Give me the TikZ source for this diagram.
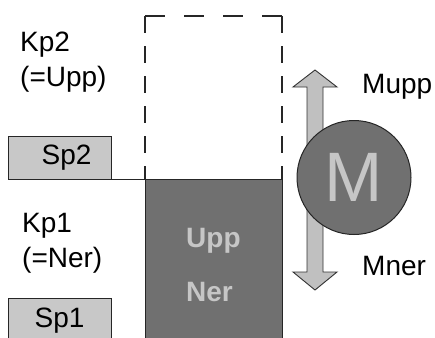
\documentclass[tikz,border=0pt]{standalone}
\usepackage{fontspec}
\setmainfont{Liberation Sans}
\usepackage{tikz}
\usetikzlibrary{positioning}
\definecolor{korgfill}{RGB}{112,112,112}
\definecolor{spfill}{RGB}{200,200,200}
\definecolor{pilfill}{RGB}{192,192,192}
\definecolor{ljustext}{RGB}{198,198,198}

\begin{document}
\begin{tikzpicture}[x=1pt, y=-1pt,
  spbox/.style={rectangle, draw=black!85, fill=spfill, line width=1pt,
             minimum width=103pt, inner sep=0pt, outer sep=0pt,
             font=\fontsize{28}{34}\selectfont},
  kplbl/.style={align=left, anchor=north west, inner sep=0pt,
             font=\fontsize{28}{35}\selectfont},
  korgbox/.style={rectangle, draw=black!85, fill=korgfill, line width=1pt,
             minimum width=137pt, minimum height=161pt, inner sep=0pt, outer sep=0pt},
  dashbox/.style={draw=black!85, line width=1.3pt},
  pil/.style={draw=black!80, fill=pilfill, line width=0.9pt, line join=miter},
  motorc/.style={circle, draw=black!85, fill=korgfill, line width=1pt,
             minimum size=114pt, inner sep=0pt, text=ljustext,
             font=\fontsize{70}{70}\selectfont},
  mlbl/.style={anchor=base west, inner sep=0pt, font=\fontsize{28}{34}\selectfont}
]
\clip (0,0) rectangle (435,337);
\fill[white] (0,0) rectangle (435,337);

% ── Korg ──────────────────────────────
\node[korgbox] (korg) at (213.5,259.5) {};
\node[anchor=north west, align=left, inner sep=0pt, text=ljustext,
      font=\fontsize{28}{54}\selectfont\bfseries] (korgtext) at (186,228) {Upp\\Ner};

% ── Dashed upper position ─────────────
\coordinate (tl) at (145,16);
\coordinate (tr) at (282,16);
\draw[dashbox, dash pattern=on 17pt off 13pt] (tl) -- (korg.north west);
\draw[dashbox, dash pattern=on 20pt off 19pt] (tl) -- (tr);
\draw[dashbox, dash pattern=on 17pt off 13pt] (tr) -- (korg.north east);

% ── Stops and positions ───────────────
\node[spbox, minimum height=43pt] (sp2) at (59.5,157.5) {\hspace*{14pt}Sp2};
\node[spbox, minimum height=46pt] (sp1) at (59.5,321) {Sp1};
\draw[draw=black!85, line width=1pt] (sp2.south east) -- (korg.north west);

\node[kplbl] (kp2) at (20,32)  {Kp2\\(=Upp)};
\node[kplbl] (kp1) at (22,213) {Kp1\\(=Ner)};

% ── Motor ─────────────────────────────
\draw[pil] (307,87) -- (293,87) -- (315,70) -- (337,87) -- (323,87)
  -- (323,272) -- (337,272) -- (315,290) -- (293,272) -- (307,272) -- cycle;
\node[motorc] (motor) at (354,177.5) {M};

\node[mlbl] (mupp) at (362,93)  {Mupp};
\node[mlbl] (mner) at (362,275) {Mner};

\end{tikzpicture}
\end{document}
